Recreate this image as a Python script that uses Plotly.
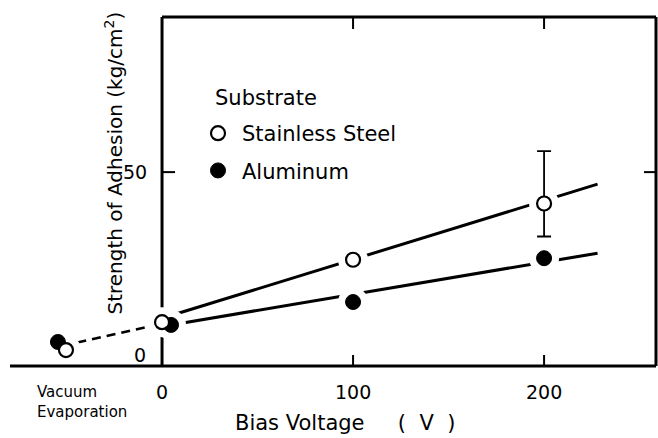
import plotly.graph_objects as go

# ---- data ----
ss_x = [-50.3, 0, 100, 200]          # Stainless Steel (open circles)
ss_y = [4.1, 11.3, 27.4, 41.9]
ss_err_plus = [None, None, None, 13.5]
ss_err_minus = [None, None, None, 8.5]

al_x = [-54.5, 4.7, 100, 200]        # Aluminum (filled circles)
al_y = [6.2, 10.6, 16.5, 27.8]

ss_fit_x = [0, 228]
ss_fit_y = [12.3, 46.9]
al_fit_x = [0, 228]
al_fit_y = [10.2, 29.1]
vac_fit_x = [-52, 1.5]
vac_fit_y = [5.2, 11.1]

x_tick_vals = [0, 100, 200]
x_tick_text = ["0", "100", "200"]
y_tick_vals = [0, 50]
y_tick_text = ["0", "50"]

X_RANGE = [-79.6, 258.6]
Y_RANGE = [0, 90]
FONT = "DejaVu Sans"

fig = go.Figure()

# fitted lines
fig.add_trace(go.Scatter(x=ss_fit_x, y=ss_fit_y, mode="lines",
                         line=dict(color="black", width=3), showlegend=False, hoverinfo="skip"))
fig.add_trace(go.Scatter(x=al_fit_x, y=al_fit_y, mode="lines",
                         line=dict(color="black", width=3), showlegend=False, hoverinfo="skip"))
fig.add_trace(go.Scatter(x=vac_fit_x, y=vac_fit_y, mode="lines",
                         line=dict(color="black", width=2.6, dash="9px,6px"),
                         showlegend=False, hoverinfo="skip"))

# white halos that break the lines around the points
fig.add_trace(go.Scatter(x=ss_x + al_x, y=ss_y + al_y, mode="markers",
                         marker=dict(color="white", size=30, line=dict(width=0)),
                         showlegend=False, hoverinfo="skip"))

# error bar
eb_idx = [i for i, v in enumerate(ss_err_plus) if v is not None]
fig.add_trace(go.Scatter(
    x=[ss_x[i] for i in eb_idx], y=[ss_y[i] for i in eb_idx], mode="markers",
    marker=dict(color="rgba(0,0,0,0)", size=1),
    error_y=dict(type="data", symmetric=False,
                 array=[ss_err_plus[i] for i in eb_idx],
                 arrayminus=[ss_err_minus[i] for i in eb_idx],
                 color="black", thickness=1.8, width=7),
    showlegend=False, hoverinfo="skip"))

# points
fig.add_trace(go.Scatter(x=al_x, y=al_y, mode="markers", name="Aluminum",
                         legendgroup="al", legendrank=2,
                         marker=dict(symbol="circle", color="black", size=15,
                                     line=dict(color="black", width=1))))
fig.add_trace(go.Scatter(x=ss_x, y=ss_y, mode="markers", name="Stainless Steel",
                         legendgroup="ss", legendrank=1,
                         marker=dict(symbol="circle", color="white", size=14,
                                     line=dict(color="black", width=2.2))))

shapes = []
blk = dict(color="black", width=3)
# frame
shapes.append(dict(type="line", xref="x", yref="paper", x0=0, x1=0, y0=0, y1=1,
                   line=blk, layer="below"))
shapes.append(dict(type="line", xref="x", yref="paper", x0=0, x1=X_RANGE[1], y0=1, y1=1,
                   line=blk, layer="below"))
shapes.append(dict(type="line", xref="paper", yref="paper", x0=1, x1=1, y0=0, y1=1,
                   line=blk, layer="below"))
shapes.append(dict(type="line", xref="paper", yref="paper", x0=0, x1=1, y0=0, y1=0,
                   line=blk, layer="above"))
tk = dict(color="black", width=2)
# x ticks (bottom pointing up, top pointing down)
for v in x_tick_vals[1:]:
    shapes.append(dict(type="line", xref="x", yref="paper", ysizemode="pixel", yanchor=0,
                       x0=v, x1=v, y0=0, y1=11, line=tk))
    shapes.append(dict(type="line", xref="x", yref="paper", ysizemode="pixel", yanchor=1,
                       x0=v, x1=v, y0=0, y1=-12, line=tk))
# y ticks (left and right, inward)
for v in y_tick_vals[1:]:
    shapes.append(dict(type="line", xref="x", yref="y", xsizemode="pixel", xanchor=0,
                       x0=0, x1=13, y0=v, y1=v, line=tk))
    shapes.append(dict(type="line", xref="paper", yref="y", xsizemode="pixel", xanchor=1,
                       x0=-12, x1=0, y0=v, y1=v, line=tk))

ann = []
tf = dict(family=FONT, size=19, color="black")
for v, t in zip(x_tick_vals, x_tick_text):
    ann.append(dict(x=v, y=0, xref="x", yref="paper", text=t, showarrow=False,
                    xanchor="center", yanchor="middle", yshift=-26, font=tf))
for v, t in zip(y_tick_vals, y_tick_text):
    ann.append(dict(x=0, y=v, xref="x", yref="y", text=t, showarrow=False,
                    xanchor="right", yanchor="middle",
                    xshift=-13 if v else -14, yshift=0 if v else 11, font=tf))
ann.append(dict(x=(35 - 10) / 646, y=0, xref="paper", yref="paper",
                text="Vacuum<br>Evaporation", showarrow=False, align="left",
                xanchor="left", yanchor="middle", yshift=-36,
                font=dict(family=FONT, size=15, color="black")))
ann.append(dict(x=(233 - 10) / 646, y=0, xref="paper", yref="paper",
                text="Bias Voltage\u00a0\u00a0\u00a0\u00a0\u00a0(\u00a0\u00a0V\u00a0\u00a0)",
                showarrow=False, xanchor="left", yanchor="middle", yshift=-57,
                font=dict(family=FONT, size=21, color="black")))
ann.append(dict(x=(113 - 10) / 646, y=(366 - 163.5) / 349, xref="paper", yref="paper",
                text="Strength of Adhesion (kg/cm<sup>2</sup>)", textangle=-90,
                showarrow=False, xanchor="center", yanchor="middle",
                font=dict(family=FONT, size=20, color="black")))
ann.append(dict(x=(213 - 10) / 646, y=(366 - 98) / 349, xref="paper", yref="paper",
                text="Substrate", showarrow=False, xanchor="left", yanchor="middle",
                font=dict(family=FONT, size=21, color="black")))

fig.update_layout(
    width=658, height=438,
    margin=dict(l=10, r=2, t=17, b=72),
    paper_bgcolor="white", plot_bgcolor="white",
    xaxis=dict(range=X_RANGE, visible=False, fixedrange=True),
    yaxis=dict(range=Y_RANGE, visible=False, fixedrange=True),
    shapes=shapes, annotations=ann,
    showlegend=True,
    legend=dict(x=(194 - 10) / 646, y=(366 - 113) / 349, xanchor="left", yanchor="top",
                bgcolor="rgba(0,0,0,0)", borderwidth=0, itemwidth=38,
                traceorder="grouped", tracegroupgap=7,
                font=dict(family=FONT, size=21, color="black")),
    font=dict(family=FONT, color="black"),
)

fig.write_html("out.html",
               config={"displayModeBar": False},
               post_script="document.body.style.margin='0';document.body.style.padding='0';")
